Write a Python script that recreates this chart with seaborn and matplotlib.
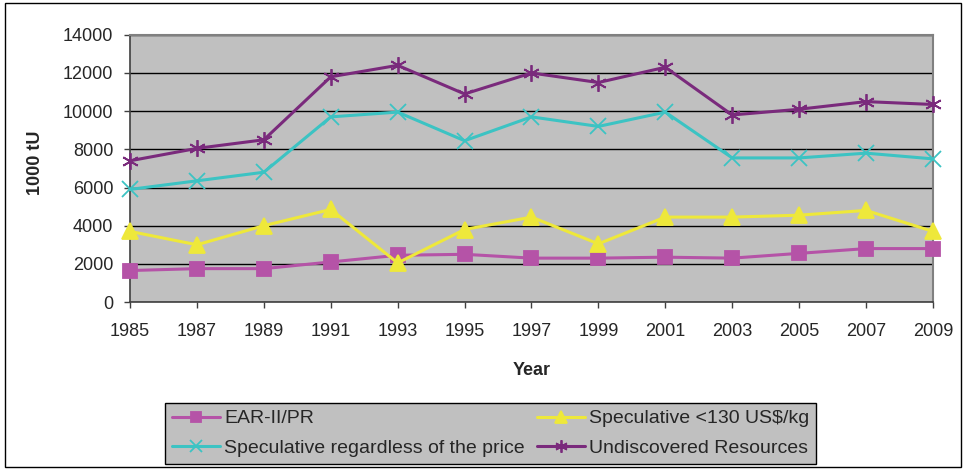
import matplotlib
matplotlib.use("Agg")
import matplotlib.pyplot as plt
import pandas as pd
import seaborn as sns
from matplotlib.patches import Rectangle

years = [1985, 1987, 1989, 1991, 1993, 1995, 1997, 1999, 2001, 2003, 2005, 2007, 2009]
ear_pr = [1650, 1750, 1750, 2100, 2450, 2500, 2300, 2300, 2350, 2300, 2550, 2800, 2800]
spec_130 = [3700, 3000, 4000, 4850, 2050, 3800, 4450, 3050, 4450, 4450, 4550, 4800, 3700]
spec_any = [5900, 6350, 6800, 9700, 9950, 8450, 9700, 9200, 9950, 7550, 7550, 7800, 7500]
undiscovered = [7400, 8050, 8500, 11800, 12400, 10900, 12000, 11500, 12300, 9800, 10100, 10500, 10350]
yticks = [0, 2000, 4000, 6000, 8000, 10000, 12000, 14000]

# order chosen so the 2-column legend reads row by row like the original
series = [
    ("EAR-II/PR", ear_pr, "#B553A7", "s", 10),
    ("Speculative regardless of the price", spec_any, "#3CC3C3", "x", 11),
    ("Speculative <130 US$/kg", spec_130, "#EEE83A", "^", 11),
    ("Undiscovered Resources", undiscovered, "#7A2A7C", (6, 2, 0), 12),
]

sns.set_style("white")
plt.rcParams["font.family"] = ["Liberation Sans", "DejaVu Sans"]

fig = plt.figure(figsize=(9.66, 4.69), dpi=100)
ax = fig.add_axes([0.1346, 0.356, 0.8312, 0.5698])
ax.set_facecolor("#C0C0C0")

for name, vals, color, marker, ms in series:
    df = pd.DataFrame({"Year": years, "value": vals})
    sns.lineplot(data=df, x="Year", y="value", ax=ax, color=color, marker=marker,
                 markersize=ms, linewidth=2.2, markeredgewidth=1.3,
                 markeredgecolor=color, label=name, clip_on=False, zorder=3)

ax.set_xlim(1985, 2009)
ax.set_ylim(0, 14000)
ax.set_xticks(years)
ax.set_yticks(yticks)
ax.yaxis.grid(True, color="black", linewidth=1)
ax.xaxis.grid(False)
ax.set_axisbelow(True)
for s in ["top", "right"]:
    ax.spines[s].set_color("#808080")
    ax.spines[s].set_linewidth(1.5)
for s in ["left", "bottom"]:
    ax.spines[s].set_color("#404040")
    ax.spines[s].set_linewidth(1.2)
ax.tick_params(axis="both", direction="out", length=4, width=1, color="#404040",
               labelsize=13, left=True, bottom=True)
ax.tick_params(axis="x", pad=11)
ax.tick_params(axis="y", pad=8)
ax.set_xlabel("Year", fontsize=13, fontweight="bold")
ax.xaxis.set_label_coords(0.5, -0.225)
ax.set_ylabel("1000 tU", fontsize=13, fontweight="bold")
ax.yaxis.set_label_coords(-0.107, 0.52)

handles, labels = ax.get_legend_handles_labels()
ax.get_legend().remove()
leg = fig.legend(handles, labels, ncol=2, loc="upper left",
                 bbox_to_anchor=(165 / 966, 1 - 403 / 469),
                 frameon=True, fancybox=False, fontsize=14, markerscale=0.75,
                 handlelength=2.5, borderpad=0.35, labelspacing=0.6,
                 columnspacing=0.6, handletextpad=0.2, borderaxespad=0)
leg.get_frame().set_facecolor("#C0C0C0")
leg.get_frame().set_edgecolor("black")
leg.get_frame().set_linewidth(1)
leg.get_frame().set_alpha(1)

fig.patches.append(Rectangle((5 / 966, 2 / 469), 956 / 966, 464 / 469,
                             transform=fig.transFigure, fill=False,
                             edgecolor="black", linewidth=1))

fig.savefig("out.png", dpi=100)
